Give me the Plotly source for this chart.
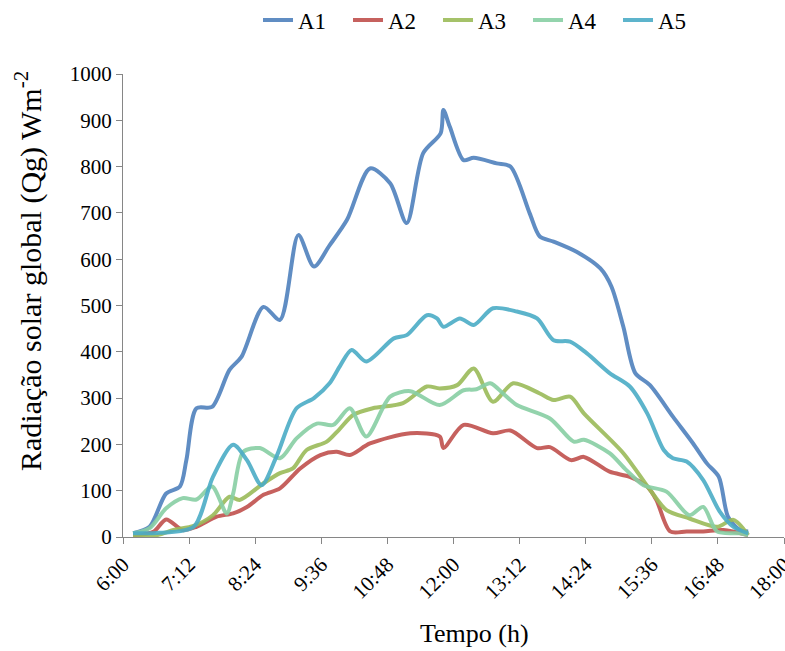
import plotly.graph_objects as go

# ---- data (time "H:MM", radiation W m-2) ----
a1_time = ["6:11","6:29","6:47","7:02","7:09","7:20","7:37","7:56","8:09","8:33","8:51","9:11","9:28","9:45","10:04",
           "10:29","10:51","11:09","11:27","11:46","11:49","11:56","12:11","12:22","12:47","13:02","13:23","13:34",
           "13:49","14:14","14:40","14:52","15:05","15:18","15:34","15:59","16:21","16:36","16:49","16:59","17:12","17:21"]
a1_vals = [8,22,94,109,166,278,281,361,389,497,469,652,584,630,685,
           796,764,678,829,872,922,886,814,819,807,800,699,649,
           638,616,580,541,454,354,328,260,202,159,130,44,15,12]

a2_time = ["6:11","6:33","6:47","7:05","7:20","7:42","8:00","8:15","8:33","8:51","9:13","9:35","9:53","10:07","10:29",
           "11:13","11:45","11:49","12:11","12:43","13:02","13:31","13:45","14:08","14:22","14:50","15:12","15:31",
           "15:41","15:56","16:14","16:32","16:54","17:21"]
a2_vals = [4,11,38,15,22,44,51,65,91,105,148,177,184,177,202,
           224,217,192,242,224,230,192,194,166,173,141,130,109,
           80,12,12,12,15,4]

a3_time = ["6:11","6:37","6:55","7:17","7:38","7:56","8:07","8:33","8:51","9:05","9:20","9:42","9:55","10:11","10:32",
           "11:05","11:31","11:45","12:04","12:22","12:43","13:05","13:34","13:49","14:07","14:22","15:05","15:34",
           "15:52","16:17","16:47","17:05","17:21"]
a3_vals = [4,4,15,24,47,87,80,116,138,148,188,206,231,264,278,
           289,325,321,328,364,292,332,310,296,303,267,181,102,
           58,40,22,37,4]

a4_time = ["6:11","6:29","6:47","7:05","7:20","7:37","7:53","8:00","8:11","8:29","8:51","9:09","9:31","9:49","10:07",
           "10:25","10:51","11:13","11:45","12:11","12:25","12:40","12:54","13:09","13:45","14:11","14:22","14:50",
           "15:08","15:27","15:52","16:17","16:32","16:47","17:12","17:21"]
a4_vals = [8,19,62,84,81,109,51,94,184,192,170,213,245,242,278,
           217,303,315,285,317,319,332,310,285,256,206,210,181,
           145,112,98,47,65,12,8,4]

a5_time = ["6:11","6:40","7:17","7:38","8:00","8:15","8:31","8:47","9:09","9:28","9:45","9:56","10:09","10:25","10:55",
           "11:09","11:31","11:42","11:49","12:07","12:22","12:43","13:09","13:31","13:49","14:07","14:25","14:50",
           "15:12","15:31","15:49","15:59","16:14","16:32","16:50","17:05","17:21"]
a5_vals = [8,9,22,130,199,166,112,173,278,300,332,368,404,379,429,
           436,479,472,454,472,458,494,487,472,425,422,397,354,
           325,267,188,170,163,123,55,22,8]

series_names = ["A1", "A2", "A3", "A4", "A5"]
series_colors = ["#4F81BD", "#C0504D", "#9BBB59", "#88CFA4", "#4BACC6"]

tick_labels = ["6:00","7:12","8:24","9:36","10:48","12:00","13:12","14:24","15:36","16:48","18:00"]


def to_hours(t):
    h, m = t.split(":")
    return int(h) + int(m) / 60.0


series = [(a1_time, a1_vals), (a2_time, a2_vals), (a3_time, a3_vals), (a4_time, a4_vals), (a5_time, a5_vals)]

FF = "'Liberation Serif', 'Times New Roman', Times, serif"
axis_col = "#868686"
L, R, T, B = 123, 1, 74, 114
W, H = 785, 651
pw, ph = W - L - R, H - T - B


def px_x(p):
    return (p - L) / pw


def px_y(p):
    return (H - B - p) / ph


fig = go.Figure()
for (times, vals), name, col in zip(series, series_names, series_colors):
    fig.add_trace(go.Scatter(
        x=[to_hours(t) for t in times], y=vals, name=name, mode="lines",
        line=dict(color=col, width=4, shape="spline", smoothing=0.8),
        opacity=0.9,
    ))

fig.update_layout(
    width=W, height=H,
    margin=dict(l=L, r=R, t=T, b=B, autoexpand=False),
    paper_bgcolor="white", plot_bgcolor="white",
    font=dict(family=FF, size=21, color="#000000"),
    showlegend=True,
    legend=dict(orientation="h", x=px_x(258), xanchor="left", y=px_y(20), yanchor="middle",
                entrywidth=45, entrywidthmode="pixels",
                font=dict(family=FF, size=23), bgcolor="rgba(0,0,0,0)"),
    xaxis=dict(range=[6, 18], tickvals=[to_hours(t) for t in tick_labels], ticktext=tick_labels,
               tickangle=-45, showgrid=False, zeroline=False, showline=True, linecolor=axis_col,
               linewidth=1, ticks="outside", ticklen=6, tickcolor=axis_col, automargin=False,
               ticklabeloverflow="allow", tickfont=dict(family=FF, size=21)),
    yaxis=dict(range=[0, 1000], tickvals=list(range(0, 1001, 100)), showgrid=False, zeroline=False,
               showline=True, linecolor=axis_col, linewidth=1, ticks="outside", ticklen=6,
               tickcolor=axis_col, automargin=False, tickfont=dict(family=FF, size=21)),
    annotations=[
        dict(text="Tempo (h)", x=px_x(474), y=px_y(633), xref="paper", yref="paper", showarrow=False,
             xanchor="center", yanchor="middle", font=dict(family=FF, size=26)),
        dict(text="Radiação solar global (Qg) Wm<sup>-2</sup>", x=px_x(28), y=px_y(271),
             xref="paper", yref="paper", showarrow=False, xanchor="center", yanchor="middle",
             textangle=-90, font=dict(family=FF, size=30)),
    ],
)

fig.write_html("out.html", config={"displayModeBar": False},
               post_script="document.body.style.margin='0';document.body.style.overflow='hidden';")
